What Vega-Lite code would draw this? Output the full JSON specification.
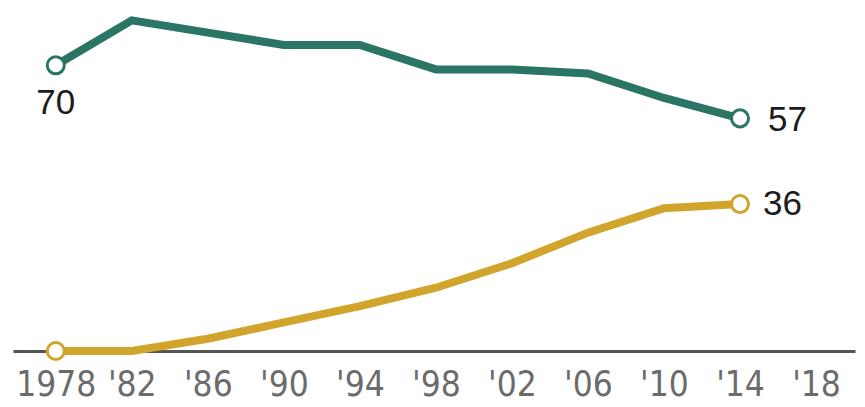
{
  "$schema": "https://vega.github.io/schema/vega-lite/v6.json",
  "autosize": "none",
  "width": 842,
  "height": 351,
  "padding": {"left": 13, "top": 0, "right": 10, "bottom": 56},
  "background": "#ffffff",
  "config": {"view": {"stroke": null}},
  "data": {
    "values": [
      {"year": 1978, "series": "a", "value": 70},
      {"year": 1982, "series": "a", "value": 81},
      {"year": 1986, "series": "a", "value": 78},
      {"year": 1990, "series": "a", "value": 75},
      {"year": 1994, "series": "a", "value": 75},
      {"year": 1998, "series": "a", "value": 69},
      {"year": 2002, "series": "a", "value": 69},
      {"year": 2006, "series": "a", "value": 68},
      {"year": 2010, "series": "a", "value": 62},
      {"year": 2014, "series": "a", "value": 57},
      {"year": 1978, "series": "b", "value": 0},
      {"year": 1982, "series": "b", "value": 0},
      {"year": 1986, "series": "b", "value": 3},
      {"year": 1990, "series": "b", "value": 7},
      {"year": 1994, "series": "b", "value": 11},
      {"year": 1998, "series": "b", "value": 15.5},
      {"year": 2002, "series": "b", "value": 21.5},
      {"year": 2006, "series": "b", "value": 29},
      {"year": 2010, "series": "b", "value": 35},
      {"year": 2014, "series": "b", "value": 36}
    ]
  },
  "encoding": {
    "x": {
      "field": "year",
      "type": "quantitative",
      "scale": {"domain": [1975.75, 2020.05], "nice": false, "zero": false},
      "axis": {
        "title": null,
        "values": [1978, 1982, 1986, 1990, 1994, 1998, 2002, 2006, 2010, 2014, 2018],
        "labelExpr": "datum.value === 1978 ? '1978' : \"'\" + substring(toString(datum.value), 2, 4)",
        "grid": false,
        "ticks": false,
        "domain": true,
        "domainColor": "#555555",
        "domainWidth": 3,
        "labelFont": "DejaVu Sans Condensed",
        "labelFontSize": 35,
        "labelColor": "#6b6b6b",
        "labelPadding": 16,
        "labelFlush": false,
        "labelOverlap": false
      }
    },
    "y": {
      "field": "value",
      "type": "quantitative",
      "scale": {"domain": [0, 86], "nice": false},
      "axis": null
    },
    "color": {
      "field": "series",
      "type": "nominal",
      "scale": {"domain": ["a", "b"], "range": ["#2a7563", "#d1a52c"]},
      "legend": null
    }
  },
  "layer": [
    {
      "mark": {"type": "line", "strokeWidth": 8, "strokeJoin": "miter"}
    },
    {
      "transform": [{"filter": "datum.year === 1978 || datum.year === 2014"}],
      "mark": {"type": "point", "shape": "circle", "filled": false, "fill": "#ffffff", "fillOpacity": 1, "size": 290, "strokeWidth": 3, "opacity": 1}
    },
    {
      "transform": [{"filter": "datum.year === 1978 && datum.series === 'a'"}],
      "mark": {"type": "text", "font": "Liberation Sans", "fontSize": 35, "align": "center", "baseline": "middle", "dy": 38},
      "encoding": {"text": {"field": "value", "type": "quantitative"}, "color": {"value": "#1c1c1c"}}
    },
    {
      "transform": [{"filter": "datum.year === 2014 && datum.series === 'a'"}],
      "mark": {"type": "text", "font": "Liberation Sans", "fontSize": 35, "align": "left", "baseline": "middle", "dx": 28, "dy": 2},
      "encoding": {"text": {"field": "value", "type": "quantitative"}, "color": {"value": "#1c1c1c"}}
    },
    {
      "transform": [{"filter": "datum.year === 2014 && datum.series === 'b'"}],
      "mark": {"type": "text", "font": "Liberation Sans", "fontSize": 35, "align": "left", "baseline": "middle", "dx": 23, "dy": 0},
      "encoding": {"text": {"field": "value", "type": "quantitative"}, "color": {"value": "#1c1c1c"}}
    }
  ]
}
